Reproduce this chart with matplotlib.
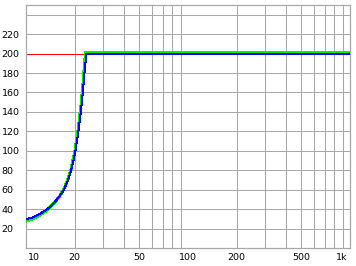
import matplotlib
matplotlib.use("Agg")
import matplotlib.pyplot as plt
import matplotlib.transforms as mtransforms
from matplotlib.ticker import FixedLocator, NullFormatter, NullLocator

# limit line (red), target response (green), actual response (blue)
limit_x = [10, 1000]
limit_y = [200, 200]

green_x = [10, 11, 12, 13, 14, 15, 16, 17, 18, 19, 20, 21, 22, 22.5, 23, 23.3, 1000]
green_y = [27.5, 30, 33, 37, 41.5, 46.5, 52.5, 59.5, 69, 81.5, 99, 122, 151, 170, 190, 201.2, 201.2]

blue_x = [10, 11, 12, 13, 14, 15, 16, 17, 18, 19, 20, 21, 22, 22.5, 23, 23.6, 1000]
blue_y = [29.5, 31.5, 34.5, 38, 42, 47, 52.5, 59, 68, 80, 96, 118, 146, 163, 182, 199.8, 199.8]

x_ticks = [10, 20, 50, 100, 200, 500, 1000]
x_labels = ["10", "20", "50", "100", "200", "500", "1k"]
x_grid = [20, 30, 40, 50, 60, 70, 80, 90, 200, 300, 400, 500, 600, 700, 800, 900]
y_ticks = [20, 40, 60, 80, 100, 120, 140, 160, 180, 200, 220]
y_grid = [20, 40, 60, 80, 100, 120, 140, 160, 180, 200, 220, 240]

plt.rcParams["font.family"] = ["DejaVu Sans"]
plt.rcParams["font.size"] = 6.8

fig = plt.figure(figsize=(3.56, 2.66), dpi=100)
ax = fig.add_axes([26 / 356, 1 - 248 / 266, 324 / 356, 243 / 266])

grid_c = "#a8a8a8"
for gx in x_grid:
    ax.axvline(gx, color=grid_c, lw=0.75, zorder=0)
for gy in y_grid:
    ax.axhline(gy, color=grid_c, lw=0.75, zorder=0)

ax.plot(limit_x, limit_y, color="#ff0000", lw=0.72, zorder=2, antialiased=False)
ax.plot(green_x, green_y, color="#00ee00", lw=1.45, zorder=3, antialiased=False)
ax.plot(blue_x, blue_y, color="#0000ff", lw=0.72, zorder=4, antialiased=False)

ax.set_xscale("log")
ax.set_xlim(10, 1000)
ax.set_ylim(0, 250)

ax.xaxis.set_major_locator(FixedLocator(x_ticks))
ax.set_xticklabels(x_labels)
ax.xaxis.set_minor_locator(NullLocator())
ax.xaxis.set_minor_formatter(NullFormatter())
ax.set_yticks(y_ticks)

ax.tick_params(axis="x", length=0, pad=3.5, colors="black")
ax.tick_params(axis="y", length=0, pad=17.5, colors="black")
for lab in ax.get_yticklabels():
    lab.set_horizontalalignment("left")

xl = ax.get_xticklabels()
xl[0].set_horizontalalignment("left")
xl[0].set_transform(xl[0].get_transform() + mtransforms.ScaledTranslation(2 / 100, 0, fig.dpi_scale_trans))
xl[-1].set_horizontalalignment("right")
xl[-1].set_transform(xl[-1].get_transform() + mtransforms.ScaledTranslation(-3 / 100, 0, fig.dpi_scale_trans))

for sp in ax.spines.values():
    sp.set_color(grid_c)
    sp.set_linewidth(0.9)

fig.savefig("out.png", dpi=100)
